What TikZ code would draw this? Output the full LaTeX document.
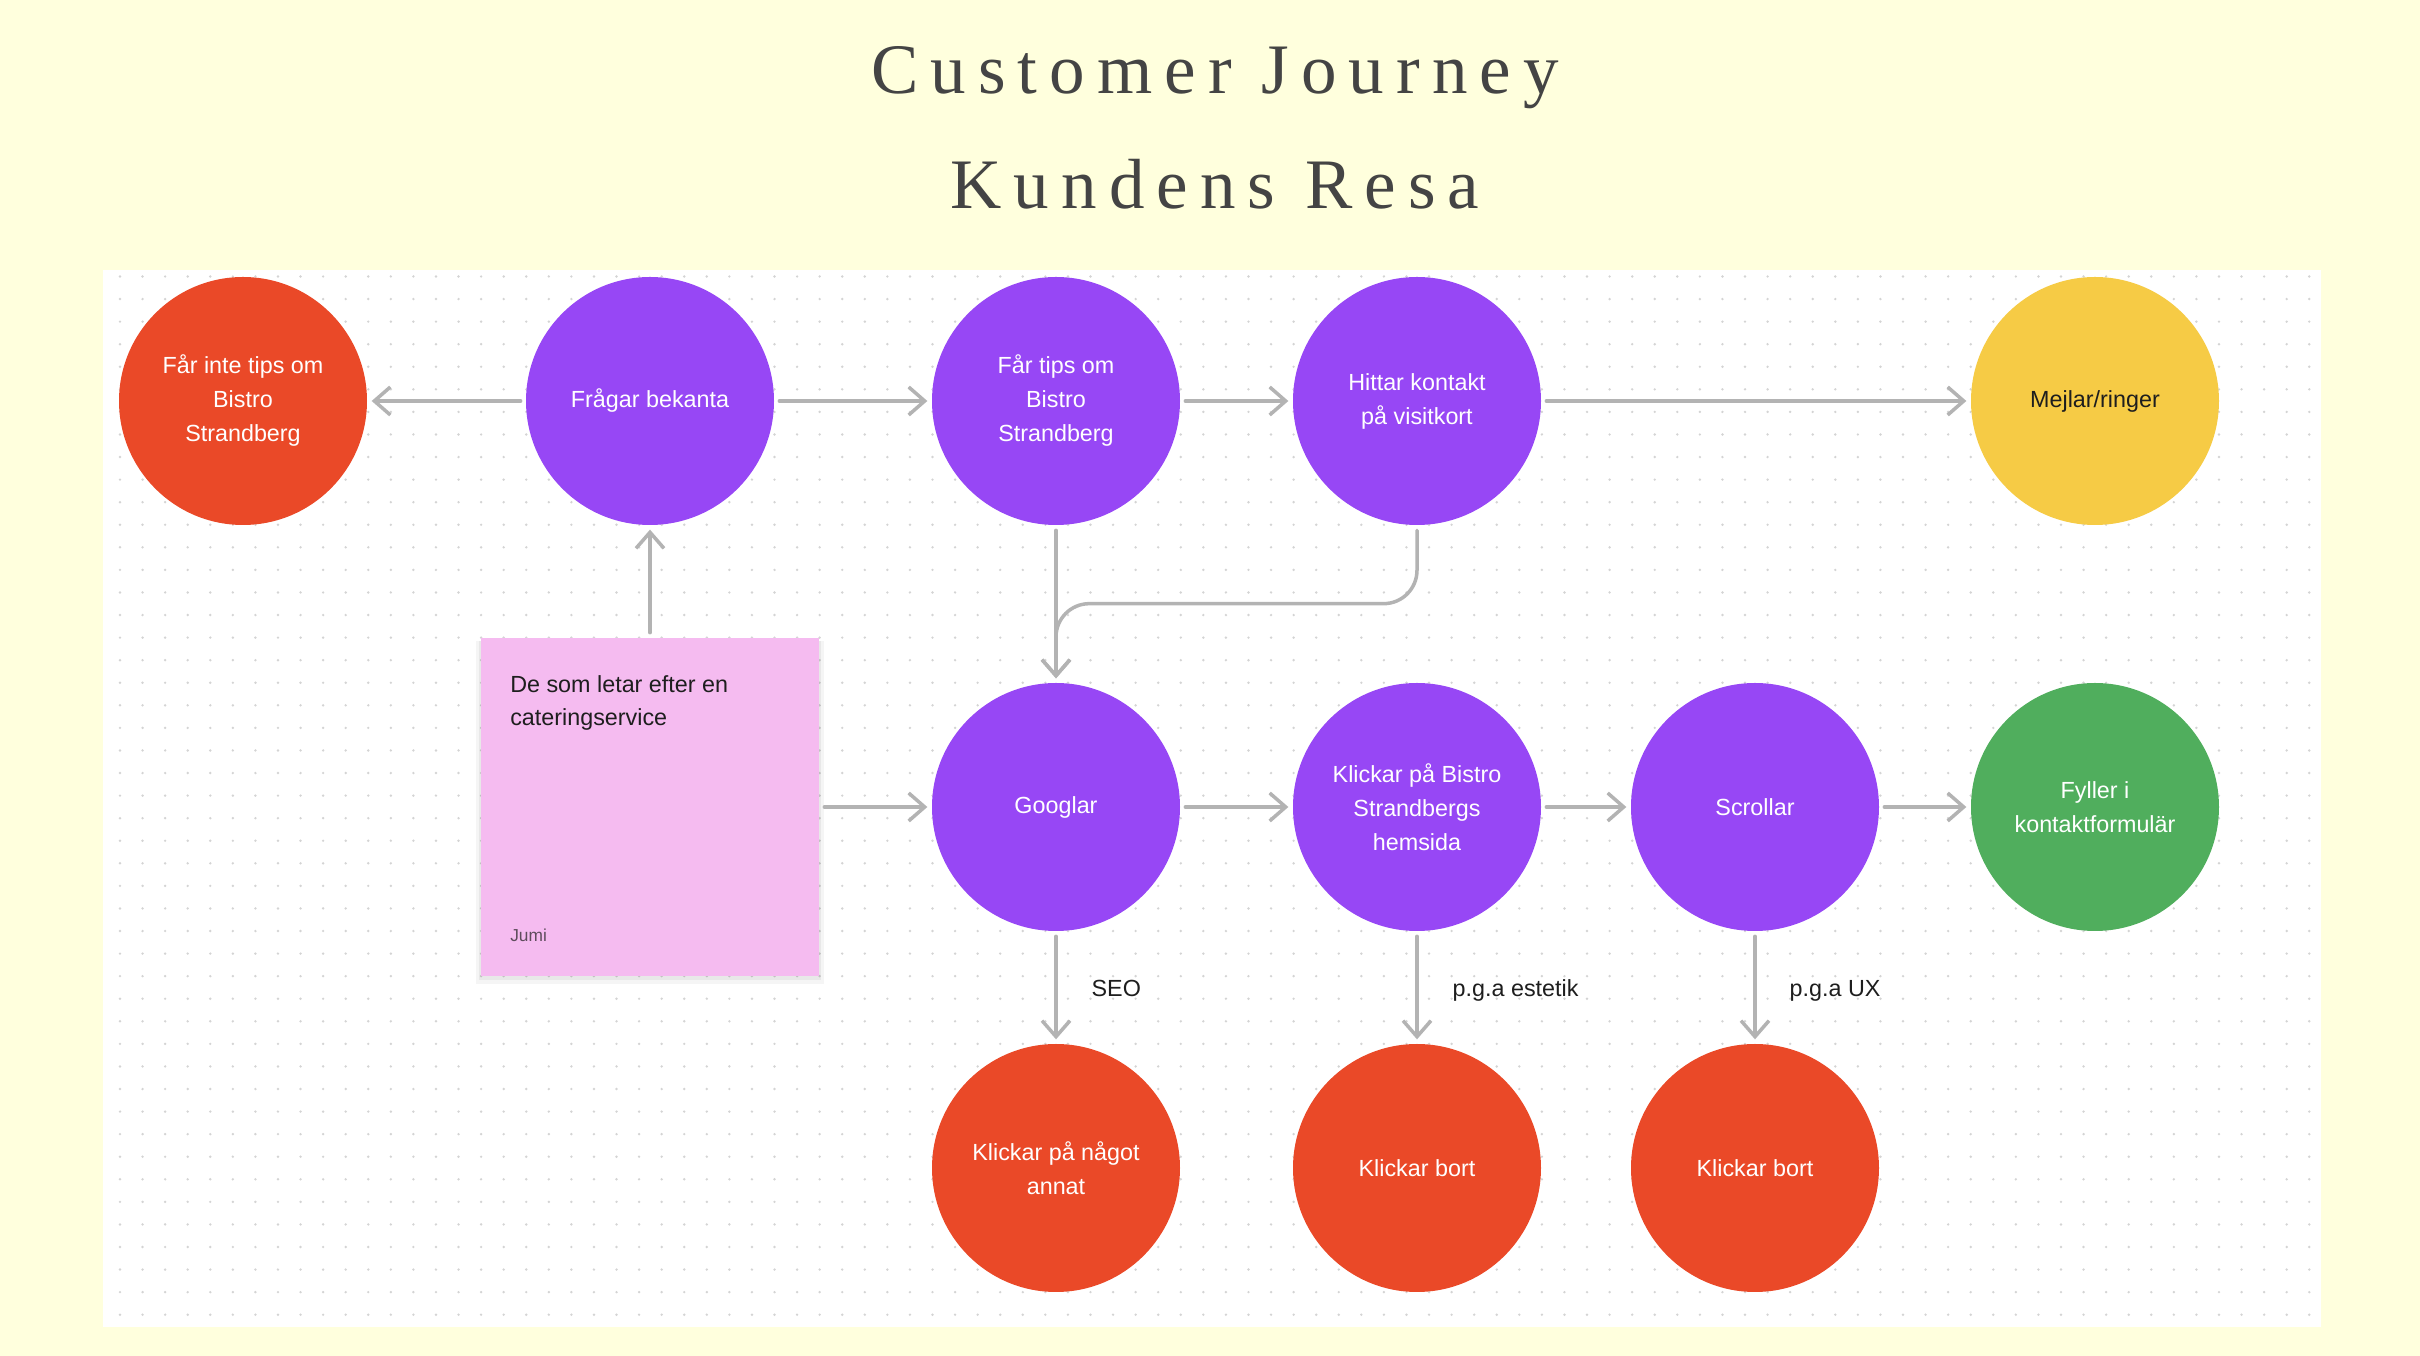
\documentclass[tikz,border=0pt]{standalone}
\usepackage{fontspec}
\setmainfont{Liberation Sans}
\newfontfamily\titlefont[LetterSpace=17]{Liberation Serif}
\usetikzlibrary{arrows.meta}
\definecolor{bgc}{RGB}{255,255,221}
\definecolor{panelc}{RGB}{255,255,255}
\definecolor{redc}{RGB}{234,73,40}
\definecolor{purc}{RGB}{151,71,245}
\definecolor{yelc}{RGB}{246,203,69}
\definecolor{grnc}{RGB}{80,174,93}
\definecolor{pinkc}{RGB}{245,187,240}
\definecolor{linec}{RGB}{179,179,179}
\definecolor{dotc}{RGB}{212,212,212}
\definecolor{titlec}{RGB}{68,68,68}
\definecolor{textc}{RGB}{30,30,30}
\tikzset{
  x=0.3pt, y=-0.3pt,
  circ/.style={circle, minimum size=74.4pt, inner sep=0pt, align=center,
    text=white, font=\fontsize{7pt}{10.2pt}\selectfont},
  conn/.style={draw=linec, line width=1.05pt, line cap=round,
    -{Straight Barb[length=4.8pt,width=8.4pt]},
    shorten <=1.4pt, shorten >=1.2pt},
  lbl/.style={anchor=base west, inner sep=0pt, text=textc,
    font=\fontsize{7pt}{10.2pt}\selectfont},
  ttl/.style={anchor=base, inner sep=0pt, text=titlec,
    font=\titlefont\fontsize{21.3pt}{24pt}\selectfont},
  sticky/.style={rectangle, fill=pinkc, minimum size=101.4pt, inner sep=0pt}
}
\begin{document}
\begin{tikzpicture}
\useasboundingbox (0,0) rectangle (2420,1356);
\fill[bgc] (0,0) rectangle (2420,1356);
\fill[panelc] (103,270) rectangle (2321,1327);
% dot grid
\foreach \k in {0,...,46}
  \draw[dotc, line width=0.8pt, line cap=round, dash pattern=on 0pt off 6.771pt]
    (120,{276.5+\k*22.57}) -- (2318,{276.5+\k*22.57});
% title
\node[ttl] (title1) at (1215,94) {Customer Journey};
\node[ttl] (title2) at (1215,209) {Kundens Resa};
% sticky note shadow
\fill[black, opacity=0.04] (476,641) rectangle (824,984);
\fill[black, opacity=0.05] (479,641) rectangle (821,980);
\node[sticky] (note) at (650,807) {};
\node[anchor=north west, inner sep=0pt, align=left, text=textc,
  font=\fontsize{7pt}{9.9pt}\selectfont] (notetext) at (509.6,675)
  {De som letar efter en\\cateringservice};
\node[anchor=base west, inner sep=0pt, text=textc, opacity=0.7,
  font=\fontsize{5.2pt}{6pt}\selectfont] (jumi) at (509.6,942) {Jumi};
% circles row 1
\node[circ, fill=redc] (farinte) at (243,401) {Får inte tips om\\Bistro\\Strandberg};
\node[circ, fill=purc] (fragar) at (650,401) {Frågar bekanta};
\node[circ, fill=purc] (fartips) at (1056,401) {Får tips om\\Bistro\\Strandberg};
\node[circ, fill=purc] (hittar) at (1417,401) {Hittar kontakt\\på visitkort};
\node[circ, fill=yelc, text=textc] (mejlar) at (2095,401) {Mejlar/ringer};
% row 2
\node[circ, fill=purc] (googlar) at (1056,807) {Googlar};
\node[circ, fill=purc] (klickar) at (1417,807) {Klickar på Bistro\\Strandbergs\\hemsida};
\node[circ, fill=purc] (scrollar) at (1755,807) {Scrollar};
\node[circ, fill=grnc] (fyller) at (2095,807) {Fyller i\\kontaktformulär};
% row 3
\node[circ, fill=redc] (annat) at (1056,1168) {Klickar på något\\annat};
\node[circ, fill=redc] (bort1) at (1417,1168) {Klickar bort};
\node[circ, fill=redc] (bort2) at (1755,1168) {Klickar bort};
% connectors
\draw[conn] (fragar) -- (farinte);
\draw[conn] (fragar) -- (fartips);
\draw[conn] (fartips) -- (hittar);
\draw[conn] (hittar) -- (mejlar);
\draw[conn] (note.north) -- (fragar);
\draw[conn] (note) -- (googlar);
\draw[conn] (fartips) -- (googlar);
\draw[conn, rounded corners=10pt] (hittar.south) -- ++(0,78) -| (googlar.north);
\draw[conn] (googlar) -- (klickar);
\draw[conn] (klickar) -- (scrollar);
\draw[conn] (scrollar) -- (fyller);
\draw[conn] (googlar) -- (annat);
\draw[conn] (klickar) -- (bort1);
\draw[conn] (scrollar) -- (bort2);
% labels
\node[lbl] (seo) at (1091,997) {SEO};
\node[lbl] (estetik) at (1452,997) {p.g.a estetik};
\node[lbl] (ux) at (1789,997) {p.g.a UX};
\end{tikzpicture}
\end{document}
